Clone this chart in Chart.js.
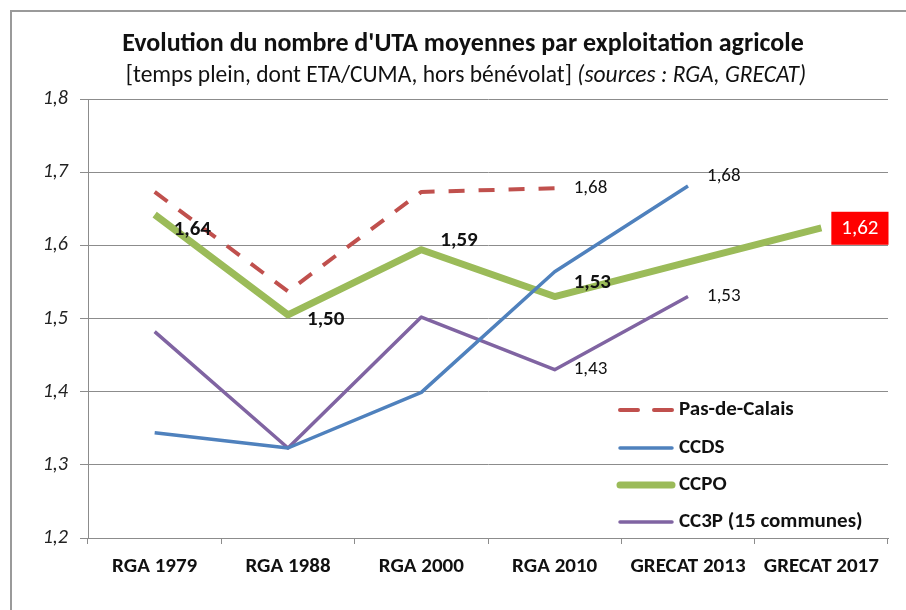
<!DOCTYPE html>
<html lang="fr">
<head>
<meta charset="utf-8">
<title>Evolution du nombre d'UTA</title>
<script src="https://cdn.jsdelivr.net/npm/chart.js@4"></script>
<style>
  html, body { margin: 0; padding: 0; background: #fff; }
  #wrap { width: 906px; height: 610px; }
</style>
</head>
<body>
<div id="wrap"><canvas id="uta-chart" width="906" height="610"></canvas></div>
<script>
// --- DATA ---
const categories = ['RGA 1979', 'RGA 1988', 'RGA 2000', 'RGA 2010', 'GRECAT 2013', 'GRECAT 2017'];
const pasDeCalais = [1.673, 1.537, 1.673, 1.678, null, null];
const ccds = [1.344, 1.323, 1.399, 1.564, 1.681, null];
const ccpo = [1.642, 1.505, 1.594, 1.530, 1.577, 1.624];
const cc3p = [1.482, 1.323, 1.502, 1.430, 1.530, null];
const yTicks = [1.2, 1.3, 1.4, 1.5, 1.6, 1.7, 1.8];

const FONT = 'Carlito, "Liberation Sans Narrow", "DejaVu Sans Condensed", "Liberation Sans", sans-serif';
const fmt = v => v.toFixed(2).replace('.', ',');

// which points get a value label, and small nudges (dy) so they sit like the original
const labelSpec = {
    'Pas-de-Calais': { idx: [3], dy: [0], bold: false },
    'CCDS': { idx: [4], dy: [-10], bold: false },
    'CCPO': { idx: [0, 1, 2, 3], dy: [15, 5, -9, -14], bold: true, boxIdx: 5 },
    'CC3P (15 communes)': { idx: [3, 4], dy: [0, 0], bold: false }
};

// --- PLUGINS ---
const frameAndTitle = {
    id: 'frameAndTitle',
    beforeDraw(chart) {
        const ctx = chart.ctx;
        ctx.save();
        ctx.strokeStyle = '#9a9a9a';
        ctx.lineWidth = 2;
        ctx.strokeRect(11, 11, 1000, 1000);
        ctx.restore();
    },
    afterDraw(chart) {
        const ctx = chart.ctx;
        const cx = 464;
        ctx.save();
        ctx.fillStyle = '#111';
        ctx.textBaseline = 'middle';
        ctx.textAlign = 'center';
        ctx.font = 'bold 26px ' + FONT;
        ctx.fillText("Evolution du nombre d'UTA moyennes par exploitation agricole", cx - 1, 44);

        // second line: regular part + italic part
        const a = '[temps plein, dont ETA/CUMA, hors bénévolat] ';
        const b = '(sources : RGA, GRECAT)';
        const fa = '23.5px ' + FONT, fb = 'italic 23.5px ' + FONT;
        ctx.font = fa; const wa = ctx.measureText(a).width;
        ctx.font = fb; const wb = ctx.measureText(b).width;
        let x = cx + 2 - (wa + wb) / 2;
        ctx.textAlign = 'left';
        ctx.font = fa; ctx.fillText(a, x, 76);
        ctx.font = fb; ctx.fillText(b, x + wa, 76);
        ctx.restore();
    }
};

const valueLabels = {
    id: 'valueLabels',
    afterDatasetsDraw(chart) {
        const ctx = chart.ctx;
        ctx.save();
        ctx.textBaseline = 'middle';
        chart.data.datasets.forEach((ds, di) => {
            const spec = labelSpec[ds.label];
            const meta = chart.getDatasetMeta(di);
            if (!spec) return;
            ctx.fillStyle = '#111';
            ctx.textAlign = 'left';
            ctx.font = (spec.bold ? 'bold 21px ' : '19px ') + FONT;
            spec.idx.forEach((i, k) => {
                const pt = meta.data[i];
                ctx.fillText(fmt(ds.data[i]), pt.x + 19, pt.y + spec.dy[k]);
            });
            if (spec.boxIdx !== undefined) {
                const pt = meta.data[spec.boxIdx];
                const txt = fmt(ds.data[spec.boxIdx]);
                ctx.font = '21px ' + FONT;
                const w = ctx.measureText(txt).width + 20;
                ctx.fillStyle = '#ff0000';
                ctx.fillRect(pt.x + 10, pt.y - 16, w, 33);
                ctx.fillStyle = '#fff';
                ctx.textAlign = 'center';
                ctx.fillText(txt, pt.x + 10 + w / 2, pt.y + 1);
            }
        });
        ctx.restore();
    }
};

const insideLegend = {
    id: 'insideLegend',
    afterDraw(chart) {
        const ctx = chart.ctx;
        const x0 = 618, x1 = 674, rows = [410, 448, 485, 522];
        ctx.save();
        ctx.textBaseline = 'middle';
        ctx.textAlign = 'left';
        ctx.font = 'bold 21px ' + FONT;
        chart.data.datasets.forEach((ds, i) => {
            const y = rows[i];
            ctx.strokeStyle = ds.borderColor;
            ctx.lineWidth = ds.borderWidth;
            ctx.lineCap = 'round';
            ctx.setLineDash(ds.borderDash && ds.borderDash.length ? [18, 16] : []);
            ctx.beginPath();
            ctx.moveTo(x0 + 2, y);
            ctx.lineTo(x1 - 2, y);
            ctx.stroke();
            ctx.setLineDash([]);
            ctx.fillStyle = '#111';
            ctx.fillText(ds.label, x1 + 5, y);
        });
        ctx.restore();
    }
};

// --- CHART ---
const ctx = document.getElementById('uta-chart').getContext('2d');
new Chart(ctx, {
    type: 'line',
    data: {
        labels: categories,
        datasets: [
            { label: 'Pas-de-Calais', data: pasDeCalais, borderColor: '#c0504d', borderWidth: 4, borderDash: [16, 14] },
            { label: 'CCDS', data: ccds, borderColor: '#4f81bd', borderWidth: 3.5 },
            { label: 'CCPO', data: ccpo, borderColor: '#9bbb59', borderWidth: 7 },
            { label: 'CC3P (15 communes)', data: cc3p, borderColor: '#8064a2', borderWidth: 3.5 }
        ]
    },
    options: {
        responsive: false,
        animation: false,
        events: [],
        layout: { padding: { left: 0, right: 18, top: 99, bottom: 0 } },
        elements: {
            point: { radius: 0 },
            line: { tension: 0, borderJoinStyle: 'round', borderCapStyle: 'butt' }
        },
        plugins: {
            legend: { display: false },
            title: { display: false },
            tooltip: { enabled: false }
        },
        scales: {
            x: {
                offset: true,
                grid: { offset: true, drawOnChartArea: false, drawTicks: true, tickLength: 6, color: '#8c8c8c' },
                border: { color: '#8c8c8c' },
                ticks: {
                    color: '#111', padding: 10, autoSkip: false, maxRotation: 0, minRotation: 0,
                    font: { family: FONT, size: 21, weight: 'bold' }
                },
                afterFit(scale) { scale.height = 72; }
            },
            y: {
                min: 1.2,
                max: 1.8,
                afterBuildTicks(scale) { scale.ticks = yTicks.map(v => ({ value: v })); },
                grid: { color: '#8c8c8c', tickLength: 8 },
                border: { color: '#8c8c8c' },
                ticks: {
                    color: '#222',
                    padding: 12,
                    font: { family: FONT, size: 20, style: 'italic' },
                    callback: v => v.toFixed(1).replace('.', ',')
                },
                afterFit(scale) { scale.width = 88; }
            }
        }
    },
    plugins: [frameAndTitle, valueLabels, insideLegend]
});
</script>
</body>
</html>
